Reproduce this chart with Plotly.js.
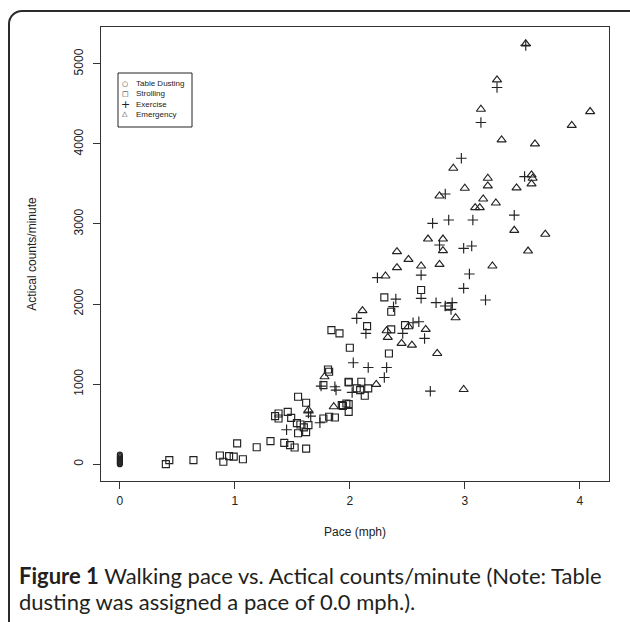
<!DOCTYPE html>
<html>
<head>
<meta charset="utf-8">
<script src="https://cdn.plot.ly/plotly-3.0.1.min.js"></script>
<style>
  html, body { margin:0; padding:0; width:630px; height:622px; overflow:hidden; background:#fff; }
  #frame { position:absolute; left:8px; top:10px; width:700px; height:700px; border:2px solid #2b2b2b; border-radius:14px; box-sizing:border-box; }
  #chart { position:absolute; left:0; top:0; width:630px; height:622px; }
  #caption { position:absolute; left:19px; top:563px; width:608px; font-family:Lato, "Open Sans", sans-serif; font-size:22px; line-height:26px; color:#231f20; white-space:nowrap; }
</style>
</head>
<body>
<div id="frame"></div>
<div id="chart"></div>
<div id="caption"><b>Figure 1</b>&nbsp;Walking pace vs. Actical counts/minute (Note: Table<br>dusting was assigned a pace of 0.0 mph.).</div>
<script>
// Table Dusting (pace fixed at 0.0 mph)
const dustX = [0, 0, 0, 0, 0, 0, 0, 0, 0];
const dustY = [0, 12, 25, 40, 55, 70, 85, 100, 120];

// Strolling
const strollX = [0.40, 0.43, 0.64, 0.87, 0.90, 0.95, 0.99, 1.02, 1.07, 1.19, 1.31, 1.43, 1.48, 1.52, 1.62,
  1.35, 1.38, 1.38, 1.46, 1.49, 1.54, 1.55, 1.55, 1.57, 1.64, 1.62, 1.60, 1.62,
  1.77, 1.82, 1.87, 1.77, 1.81, 1.82, 1.84, 1.91, 1.93, 1.97, 1.99, 1.99, 1.99, 2.00,
  2.06, 2.09, 2.10, 2.13, 2.16, 2.15, 2.30, 2.36, 2.36, 2.34, 2.48, 2.62, 2.86, 1.94, 1.99];
const strollY = [0, 50, 50, 108, 30, 100, 95, 260, 62, 212, 288, 267, 238, 208, 195,
  600, 633, 570, 654, 579, 512, 387, 842, 496, 487, 767, 460, 400,
  571, 592, 583, 987, 1183, 1154, 1675, 1633, 737, 758, 654, 1021, 750, 1454,
  946, 925, 1029, 854, 946, 1725, 2083, 1904, 1683, 1383, 1737, 2175, 1967, 729, 1029];

// Exercise
const exerX = [1.45, 1.64, 1.66, 1.74, 1.75, 1.87, 1.88, 2.02, 2.03, 2.16, 2.32, 2.30, 2.06, 2.14,
  2.24, 2.40, 2.38, 2.46, 2.55, 2.60, 2.65, 2.62, 2.62, 2.75, 2.83, 2.89, 2.88, 2.70,
  2.99, 3.18, 3.04, 2.99, 3.06, 2.78, 2.72, 2.86, 3.07, 2.83, 2.97, 3.14, 3.28, 3.53, 3.43, 3.52];
const exerY = [430, 640, 600, 517, 975, 967, 925, 896, 1267, 1208, 1208, 1083, 1821, 1633,
  2329, 2062, 1967, 1633, 1767, 1779, 1571, 2071, 2362, 2017, 1975, 2017, 1933, 912,
  2196, 2050, 2375, 2696, 2725, 2737, 3008, 3050, 3050, 3375, 3821, 4267, 4704, 5230, 3110, 3592];

// Emergency
const emergX = [1.64, 1.78, 1.86, 2.23, 2.11, 2.32, 2.33, 2.51, 2.66, 2.45, 2.54, 2.76, 2.92, 2.99,
  2.31, 2.41, 2.41, 2.51, 2.62, 2.78, 2.68, 2.81, 2.81, 3.24, 2.78, 2.90, 3.00, 3.09, 3.13,
  3.16, 3.27, 3.20, 3.20, 3.45, 3.58, 3.58, 3.59, 3.43, 3.70, 3.55, 3.32, 3.61, 3.14, 3.28,
  3.53, 3.93, 4.09];
const emergY = [675, 1092, 717, 996, 1917, 1667, 1583, 1717, 1683, 1508, 1487, 1383, 1829, 933,
  2350, 2454, 2654, 2558, 2475, 2496, 2812, 2812, 2667, 2475, 3350, 3696, 3446, 3204, 3204,
  3312, 3262, 3571, 3475, 3450, 3500, 3612, 3571, 2921, 2872, 2662, 4050, 4000, 4433, 4800,
  5250, 4231, 4404];

const xTicks = [0, 1, 2, 3, 4];
const yTicks = [0, 1000, 2000, 3000, 4000, 5000];
const legendLabels = ['Table Dusting', 'Strolling', 'Exercise', 'Emergency'];
const legendGlyphs = ['\u25CB', '\u25A1', '+', '\u25B3'];

const ink = '#222';
function tr(x, y, name, symbol, size) {
  return { x: x, y: y, name: name, type: 'scatter', mode: 'markers', showlegend: false,
    marker: { symbol: symbol, size: size, color: ink, line: { color: ink, width: 1.15 } } };
}
const data = [
  tr(dustX, dustY, legendLabels[0], 'circle-open', 5),
  tr(strollX, strollY, legendLabels[1], 'square-open', 7),
  tr(exerX, exerY, legendLabels[2], 'cross-thin-open', 7.5),
  tr(emergX, emergY, legendLabels[3], 'triangle-up-open', 8)
];

// legend drawn as box + text, positioned in paper coordinates
const W = 508, H = 454, L = 101, T = 27;
const px = v => (v - L) / W;
const py = v => (T + H - v) / H;
const rowY = [83.7, 93.7, 104, 114.3];
const annotations = [];
legendLabels.forEach((lab, i) => {
  annotations.push({ xref: 'paper', yref: 'paper', x: px(134), y: py(rowY[i]), text: lab, showarrow: false,
    xanchor: 'left', yanchor: 'middle', font: { family: 'Liberation Sans, Arial, sans-serif', size: 8, color: ink } });
  annotations.push({ xref: 'paper', yref: 'paper', x: px(125), y: py(rowY[i]), text: legendGlyphs[i], showarrow: false,
    xanchor: 'center', yanchor: 'middle', font: { family: 'DejaVu Sans, sans-serif', size: i === 2 ? 11 : 7, color: ink } });
});

const axisFont = { family: 'Liberation Sans, Arial, sans-serif', size: 12, color: '#222' };
const layout = {
  width: 630, height: 622,
  margin: { l: L, r: 630 - L - W, t: T, b: 622 - T - H },
  paper_bgcolor: 'rgba(0,0,0,0)', plot_bgcolor: '#fff',
  showlegend: false,
  xaxis: { range: [-0.164, 4.254], tickvals: xTicks, ticktext: xTicks.map(String), ticks: 'outside', ticklen: 7,
    tickcolor: '#333', showline: true, mirror: true, linecolor: '#333', linewidth: 1, showgrid: false, zeroline: false,
    ticklabelstandoff: 2,
    tickfont: axisFont, title: { text: 'Pace (mph)', font: axisFont, standoff: 20 } },
  yaxis: { range: [-210, 5460], tickvals: yTicks, ticktext: yTicks.map(String), ticks: 'outside', ticklen: 7,
    tickcolor: '#333', tickangle: -90, showline: true, mirror: true, linecolor: '#333', linewidth: 1, showgrid: false,
    ticklabelstandoff: 5,
    zeroline: false, tickfont: axisFont, title: { text: 'Actical counts/minute', font: axisFont, standoff: 33 } },
  shapes: [{ type: 'rect', xref: 'paper', yref: 'paper', x0: px(118), x1: px(192), y0: py(127), y1: py(73),
    line: { color: ink, width: 1 }, fillcolor: 'rgba(0,0,0,0)' }],
  annotations: annotations
};
Plotly.newPlot('chart', data, layout, { staticPlot: true, displayModeBar: false });
</script>
</body>
</html>
